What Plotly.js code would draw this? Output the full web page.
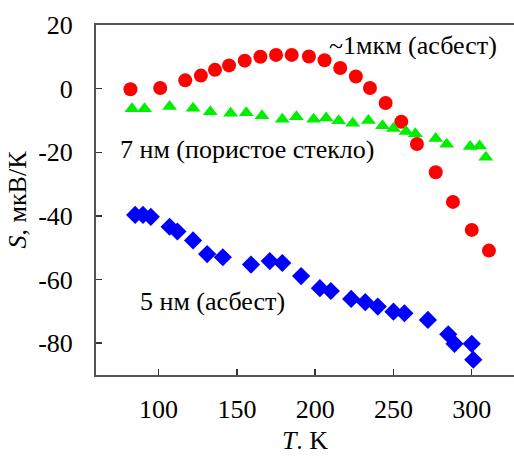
<!DOCTYPE html>
<html>
<head>
<meta charset="utf-8">
<script src="https://cdn.plot.ly/plotly-3.0.1.min.js"></script>
<style>body{margin:0;padding:0;background:#fff;}#chart{width:514px;height:457px;}</style>
</head>
<body>
<div id="chart"></div>
<script>
// ~1 мкм (асбест) — red circles
var redT = [82, 101, 117, 127, 136, 145, 155, 165, 175, 185, 196, 206, 216, 226, 235, 245, 255, 265, 277, 288, 300, 311];
var redS = [-0.2, 0.2, 2.6, 4.1, 5.9, 7.3, 8.8, 10, 10.6, 10.6, 10.1, 8.9, 6.5, 3.8, 0.2, -4.5, -10.4, -17.4, -26.3, -35.6, -44.4, -50.9];

// 7 нм (пористое стекло) — green triangles
var greenT = [83, 91, 107, 122, 133, 146, 156, 166, 179, 188, 199, 207, 215, 224, 234, 243, 250, 258, 264, 277, 284, 299, 305, 309];
var greenS = [-6.3, -6.3, -5.6, -6.2, -7.3, -7.7, -7.6, -8.5, -9.6, -8.8, -9.6, -9.2, -10.1, -10.9, -10.0, -11.7, -12.5, -13.5, -14.2, -15.7, -17.5, -18.2, -18.0, -21.6];

// 5 нм (асбест) — blue diamonds
var blueT = [85, 90, 95, 107, 112, 122, 131, 141, 159, 171, 179, 191, 203, 210, 223, 232, 240, 250, 257, 272, 285, 289, 300, 301];
var blueS = [-39.7, -39.7, -40.3, -43.4, -44.9, -47.7, -52.0, -53.0, -55.3, -54.2, -54.8, -58.9, -62.7, -63.6, -66.1, -67.1, -68.5, -70.1, -70.6, -72.7, -77.2, -80.2, -80.2, -85.2];

var xTicks = [100, 150, 200, 250, 300];
var yTicks = [-80, -60, -40, -20, 0, 20];

var labels = ["~1мкм (асбест)", "7 нм (пористое стекло)", "5 нм (асбест)"];

var FONT = "Times New Roman";
var FS = 26;

var traces = [
  {x: redT, y: redS, type: "scatter", mode: "markers", name: labels[0],
   marker: {symbol: "circle", size: 14, color: "#ff0000", line: {width: 0}}},
  {x: greenT, y: greenS, type: "scatter", mode: "markers", name: labels[1],
   marker: {symbol: "triangle-up", size: 13, color: "#00ee00", line: {width: 0}}},
  {x: blueT, y: blueS, type: "scatter", mode: "markers", name: labels[2],
   marker: {symbol: "diamond", size: 14, color: "#0000ff", line: {width: 0}}}
];

function tf() { return {family: FONT, size: FS, color: "#000"}; }

var layout = {
  width: 514, height: 457,
  margin: {l: 96, r: 0, t: 25, b: 82, pad: 0},
  paper_bgcolor: "#fff", plot_bgcolor: "#fff",
  showlegend: false,
  font: tf(),
  xaxis: {
    range: [60, 327], tickvals: xTicks, ticktext: xTicks.map(String),
    ticks: "inside", ticklen: 6, tickwidth: 1.5, tickcolor: "#333",
    showline: true, linecolor: "#555", linewidth: 2, mirror: true,
    showgrid: false, zeroline: false,
    ticklabelstandoff: 10,
    tickfont: tf(),
    title: {text: "<i>T</i>. K", font: tf(), standoff: 8}
  },
  yaxis: {
    range: [-90, 20], tickvals: yTicks, ticktext: yTicks.map(String),
    ticks: "inside", ticklen: 6, tickwidth: 1.5, tickcolor: "#333",
    showline: true, linecolor: "#555", linewidth: 2,
    showgrid: false, zeroline: false,
    ticklabelstandoff: 16,
    tickfont: tf(),
    title: {text: "<i>S</i>, мкВ/К", font: tf(), standoff: 4}
  },
  annotations: [
    {x: 207.5, y: 13.7, xref: "x", yref: "y", text: labels[0], showarrow: false,
     xanchor: "left", yanchor: "middle", font: tf()},
    {x: 74, y: -19, xref: "x", yref: "y", text: labels[1], showarrow: false,
     xanchor: "left", yanchor: "middle", font: tf()},
    {x: 87, y: -67, xref: "x", yref: "y", text: labels[2], showarrow: false,
     xanchor: "left", yanchor: "middle", font: tf()}
  ]
};

Plotly.newPlot("chart", traces, layout, {displayModeBar: false, staticPlot: true});
</script>
</body>
</html>
